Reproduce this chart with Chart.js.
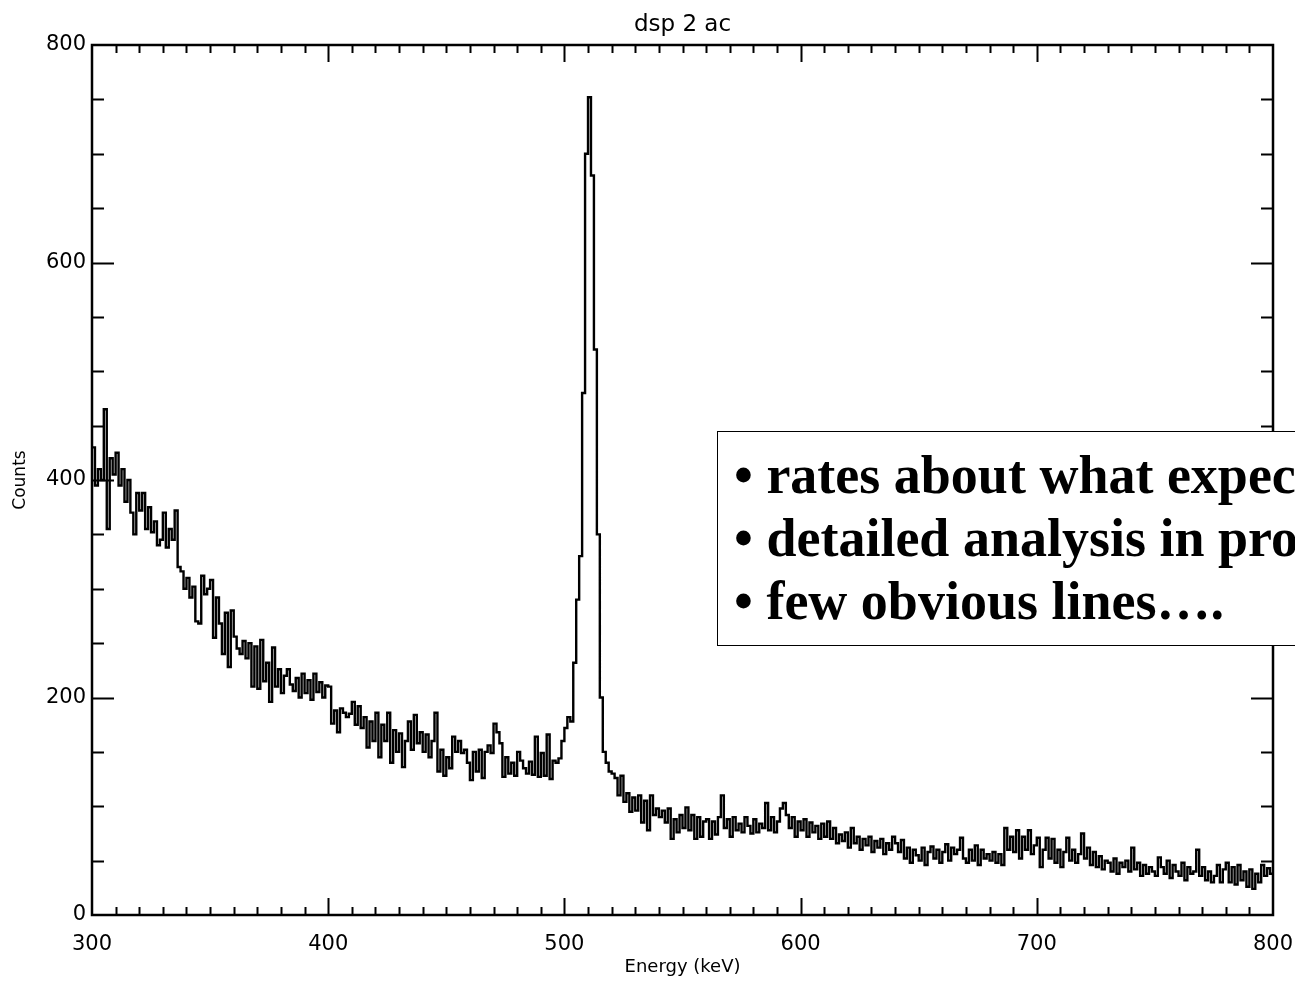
<!doctype html>
<html>
<head>
    <title>dsp 2 ac</title>
    <script src="https://cdn.jsdelivr.net/npm/chart.js@4.4.1/dist/chart.umd.min.js"></script>
    <style>
        html, body {
            margin: 0;
            padding: 0;
            background: #fff;
            overflow: hidden;
        }
        .wrap {
            position: relative;
            width: 1295px;
            height: 982px;
            overflow: hidden;
        }
        .note {
            position: absolute;
            left: 717px;
            top: 431px;
            width: 700px;
            height: 201px;
            padding-top: 12px;
            padding-left: 16px;
            box-sizing: content-box;
            border: 1.2px solid #000;
            background: #fff;
            font-family: "Liberation Serif", "Times New Roman", serif;
            font-weight: bold;
            font-size: 54px;
            line-height: 63px;
            color: #000;
            white-space: nowrap;
        }
    </style>
</head>
<body>
<div class="wrap">
    <canvas id="spectrum" width="1295" height="982"></canvas>
    <div class="note">
        • rates about what expected<br>
        • detailed analysis in progress<br>
        • few obvious lines….
    </div>
</div>

<script>
    // histogram: 1.25 keV bins from 300 to 800 keV
    var binStart = 300;
    var binWidth = 1.25;

    var counts300 = [
        430, 395, 410, 400, 465, 355, 420, 405,
        425, 395, 410, 380, 400, 370, 350, 388,
        372, 388, 355, 375, 352, 362, 340, 345,
        370, 338, 355, 345, 372, 320, 316, 300,
        310, 292, 302, 270, 268, 312, 295, 300,
        308, 255, 292, 268, 240, 278, 228, 280,
        256, 245, 240, 252, 236, 250, 210, 247,
        208, 253, 215, 232, 196, 246, 210, 226,
        204, 220, 226, 212, 206, 218, 200, 222,
        204, 216, 198, 222, 205, 214, 200, 211
    ];
    var counts400 = [
        210, 176, 188, 168, 190, 186, 182, 185,
        196, 175, 192, 172, 182, 154, 178, 160,
        186, 145, 175, 160, 186, 140, 170, 150,
        167, 136, 160, 178, 152, 184, 158, 168,
        150, 166, 145, 160, 186, 132, 152, 128,
        145, 135, 164, 150, 160, 149, 152, 140,
        124, 150, 132, 152, 126, 150, 156, 149,
        176, 168, 158, 127, 145, 130, 140, 128,
        150, 142, 135, 130, 141, 129, 164, 127,
        149, 128, 166, 125, 142, 140, 144, 160
    ];
    var counts500 = [
        172, 182, 178, 232, 290, 330, 480, 700,
        752, 680, 520, 350, 200, 150, 140, 132,
        130, 126, 110, 128, 104, 112, 95, 108,
        96, 110, 85, 105, 78, 110, 92, 98,
        90, 96, 85, 98, 70, 88, 76, 92,
        80, 99, 78, 92, 70, 90, 72, 86,
        88, 70, 86, 74, 90, 110, 80, 88,
        72, 90, 78, 84, 76, 90, 82, 75,
        88, 76, 84, 80, 103, 78, 90, 76,
        86, 98, 103, 92, 80, 90, 72, 86
    ];
    var counts600 = [
        78, 88, 72, 85, 76, 82, 70, 84,
        72, 86, 70, 80, 66, 74, 68, 76,
        62, 80, 66, 72, 60, 70, 64, 72,
        58, 68, 62, 70, 56, 66, 60, 72,
        66, 58, 69, 52, 62, 48, 60, 55,
        50, 62, 46, 58, 63, 52, 60, 48,
        58, 65, 50, 62, 56, 60, 71, 52,
        48, 60, 50, 64, 46, 60, 52, 56,
        50, 58, 48, 56, 46, 80, 60, 72,
        58, 78, 52, 72, 60, 78, 56, 64
    ];
    var counts700 = [
        71, 44, 60, 71, 52, 70, 48, 60,
        44, 58, 71, 50, 60, 48, 56, 75,
        52, 62, 46, 58, 44, 54, 42, 50,
        48, 40, 52, 38, 48, 44, 50, 40,
        62, 42, 48, 36, 46, 38, 44, 40,
        36, 53, 44, 38, 50, 34, 46, 40,
        36, 48, 32, 44, 38, 40, 60, 36,
        44, 32, 40, 30, 36, 46, 30, 42,
        48, 30, 44, 28, 46, 32, 40, 26,
        42, 24, 38, 30, 46, 36, 43, 38
    ];

    var counts = counts300.concat(counts400, counts500, counts600, counts700);

    var points = counts.map(function(c, i) {
        return {x: binStart + i * binWidth, y: c};
    });
    // close the last bin
    points.push({x: binStart + counts.length * binWidth, y: counts[counts.length - 1]});

    var tickFont = {family: 'DejaVu Sans', size: 21};

    // frame plus inward ticks on all four sides (IDL style), title centred on the plot
    var framePlugin = {
        id: 'frame',
        afterDatasetsDraw: function(chart) {
            var ctx = chart.ctx;
            var a = chart.chartArea;
            var xs = chart.scales.x;
            var ys = chart.scales.y;
            ctx.save();
            ctx.strokeStyle = '#000';
            ctx.lineWidth = 2;
            ctx.beginPath();
            for (var e = 310; e < 800; e += 10) {
                var px = Math.round(xs.getPixelForValue(e)) + 0.5;
                var len = (e % 100 === 0) ? 17 : 8;
                ctx.moveTo(px, a.bottom);
                ctx.lineTo(px, a.bottom - len);
                ctx.moveTo(px, a.top);
                ctx.lineTo(px, a.top + len);
            }
            for (var c = 50; c < 800; c += 50) {
                var py = Math.round(ys.getPixelForValue(c)) + 0.5;
                var l = (c % 200 === 0) ? 22 : 12;
                ctx.moveTo(a.left, py);
                ctx.lineTo(a.left + l, py);
                ctx.moveTo(a.right, py);
                ctx.lineTo(a.right - l, py);
            }
            ctx.stroke();
            ctx.lineWidth = 2.5;
            ctx.strokeRect(a.left, a.top, a.right - a.left, a.bottom - a.top);

            ctx.fillStyle = '#000';
            ctx.font = '23px "DejaVu Sans"';
            ctx.textAlign = 'center';
            ctx.textBaseline = 'middle';
            ctx.fillText('dsp 2 ac', (a.left + a.right) / 2, 25);
            ctx.restore();
        }
    };

    var config = {
        type: 'line',
        data: {
            datasets: [{
                label: 'dsp 2 ac',
                data: points,
                borderColor: '#000',
                borderWidth: 2.4,
                pointRadius: 0,
                stepped: true,
                fill: false
            }]
        },
        options: {
            responsive: false,
            animation: false,
            devicePixelRatio: 1,
            layout: {
                padding: {left: 0, right: 22, top: 45, bottom: 0}
            },
            plugins: {
                legend: {display: false},
                tooltip: {enabled: false},
                title: {display: false}
            },
            scales: {
                x: {
                    type: 'linear',
                    min: 300,
                    max: 800,
                    grid: {display: false, drawTicks: false},
                    border: {display: false},
                    ticks: {
                        stepSize: 100,
                        autoSkip: false,
                        maxRotation: 0,
                        color: '#000',
                        font: tickFont,
                        padding: 17
                    },
                    title: {
                        display: true,
                        text: 'Energy (keV)',
                        color: '#000',
                        font: {family: 'DejaVu Sans', size: 18},
                        padding: {top: 0, bottom: 4}
                    },
                    afterFit: function(scale) {
                        scale.height = 67;
                        scale.paddingLeft = 0;
                        scale.paddingRight = 0;
                    }
                },
                y: {
                    min: 0,
                    max: 800,
                    grid: {display: false, drawTicks: false},
                    border: {display: false},
                    ticks: {
                        stepSize: 200,
                        autoSkip: false,
                        color: '#000',
                        font: tickFont,
                        padding: 6
                    },
                    title: {
                        display: true,
                        text: 'Counts',
                        color: '#000',
                        font: {family: 'DejaVu Sans', size: 17},
                        padding: {top: 10, bottom: 0}
                    },
                    afterFit: function(scale) {
                        scale.width = 92;
                        scale.paddingTop = 0;
                        scale.paddingBottom = 0;
                    }
                }
            }
        },
        plugins: [framePlugin]
    };

    window.onload = function() {
        var ctx = document.getElementById('spectrum').getContext('2d');
        window.spectrumChart = new Chart(ctx, config);
    };
</script>
</body>
</html>
